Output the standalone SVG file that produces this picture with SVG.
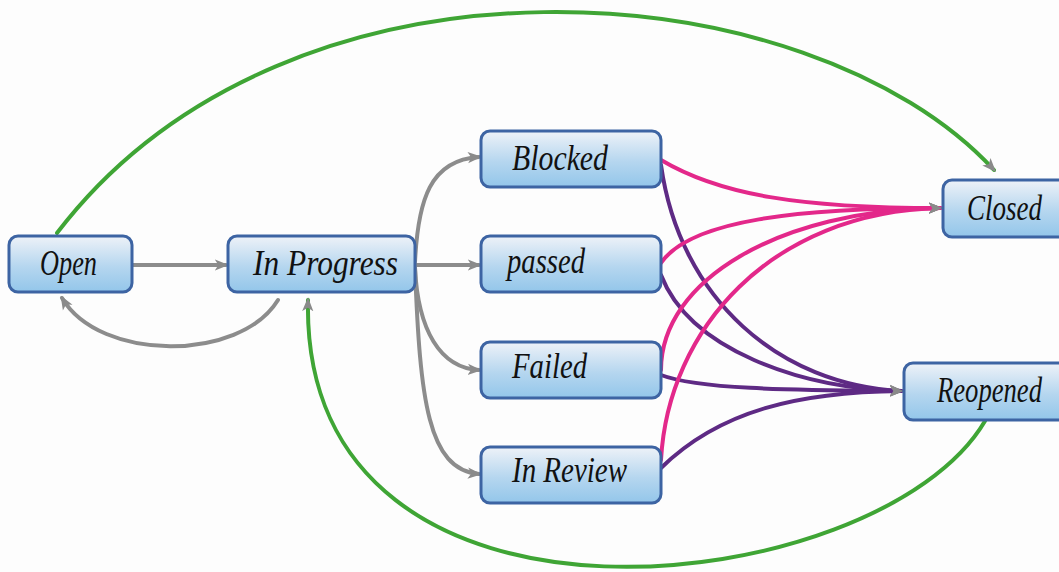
<svg xmlns="http://www.w3.org/2000/svg" width="1059" height="572" viewBox="0 0 1059 572">
<defs>
<linearGradient id="bg" x1="0" y1="0" x2="0" y2="1">
<stop offset="0" stop-color="#eef2f8"/>
<stop offset="0.55" stop-color="#b5d6ef"/>
<stop offset="1" stop-color="#93c6ea"/>
</linearGradient>
<marker id="ah" markerUnits="userSpaceOnUse" markerWidth="14" markerHeight="14" viewBox="0 0 10 10" refX="8" refY="5" orient="auto">
<path d="M0,1 L10,5 L0,9 L2.5,5 z" fill="#8a8a8a"/>
</marker>
<style>
.box{fill:url(#bg);stroke:#3d64a3;stroke-width:3}
.lbl{font-family:"Liberation Serif","DejaVu Serif",serif;font-style:italic;font-size:36px;fill:#111}
.c{fill:none;stroke-width:4;stroke-linecap:round}
.g{stroke:#8c8c8c}
.gr{stroke:#3fa535}
.pk{stroke:#e3288a}
.pu{stroke:#5e2a84}
</style>
</defs>
<rect width="1059" height="572" fill="#fdfdfd"/>
<g id="connectors">
<path class="c gr" d="M57,233 C290,-72 810,-30 994,170" marker-end="url(#ah)"/>
<path class="c gr" d="M985,421 C880,600 300,670 308,300" marker-end="url(#ah)"/>
<path class="c g" d="M132,265 L226,265" marker-end="url(#ah)"/>
<path class="c g" d="M278,300 C240,362 100,362 62,298" marker-end="url(#ah)"/>
<path class="c g" d="M415,265 L479,265" marker-end="url(#ah)"/>
<path class="c g" d="M415,262 C418,200 430,160 479,157" marker-end="url(#ah)"/>
<path class="c g" d="M415,268 C418,330 440,368 479,370" marker-end="url(#ah)"/>
<path class="c g" d="M415,268 C420,400 428,470 479,474" marker-end="url(#ah)"/>
<path class="c pu" d="M661,165 C680,300 780,385 901,391" marker-end="url(#ah)"/>
<path class="c pu" d="M661,275 C690,350 800,388 901,391" marker-end="url(#ah)"/>
<path class="c pu" d="M661,375 C700,390 800,390 901,391" marker-end="url(#ah)"/>
<path class="c pu" d="M661,468 C720,410 800,392 901,391" marker-end="url(#ah)"/>
<path class="c pk" d="M661,160 C720,195 800,208 940,208" marker-end="url(#ah)"/>
<path class="c pk" d="M661,263 C690,220 800,208 940,208" marker-end="url(#ah)"/>
<path class="c pk" d="M661,370 C661,280 780,210 940,208" marker-end="url(#ah)"/>
<path class="c pk" d="M661,460 C668,330 770,212 940,208" marker-end="url(#ah)"/>
</g>
<g id="open"><rect class="box" x="9" y="236" width="123" height="56" rx="9"/><text class="lbl" x="40" y="275" textLength="57" lengthAdjust="spacingAndGlyphs">Open</text></g>
<g id="inprogress"><rect class="box" x="228" y="236" width="187" height="56" rx="9"/><text class="lbl" x="253" y="275" textLength="145" lengthAdjust="spacingAndGlyphs">In Progress</text></g>
<g id="blocked"><rect class="box" x="481" y="131" width="180" height="56" rx="9"/><text class="lbl" x="512" y="170" textLength="96" lengthAdjust="spacingAndGlyphs">Blocked</text></g>
<g id="passed"><rect class="box" x="481" y="236" width="180" height="56" rx="9"/><text class="lbl" x="507" y="273" textLength="78" lengthAdjust="spacingAndGlyphs">passed</text></g>
<g id="failed"><rect class="box" x="481" y="342" width="180" height="56" rx="9"/><text class="lbl" x="512" y="378" textLength="75" lengthAdjust="spacingAndGlyphs">Failed</text></g>
<g id="inreview"><rect class="box" x="481" y="447" width="180" height="56" rx="9"/><text class="lbl" x="512" y="482" textLength="115" lengthAdjust="spacingAndGlyphs">In Review</text></g>
<g id="closed"><rect class="box" x="943" y="180" width="130" height="57" rx="9"/><text class="lbl" x="967" y="220" textLength="75" lengthAdjust="spacingAndGlyphs">Closed</text></g>
<g id="reopened"><rect class="box" x="904" y="363" width="170" height="57" rx="9"/><text class="lbl" x="937" y="402" textLength="105" lengthAdjust="spacingAndGlyphs">Reopened</text></g>
</svg>
